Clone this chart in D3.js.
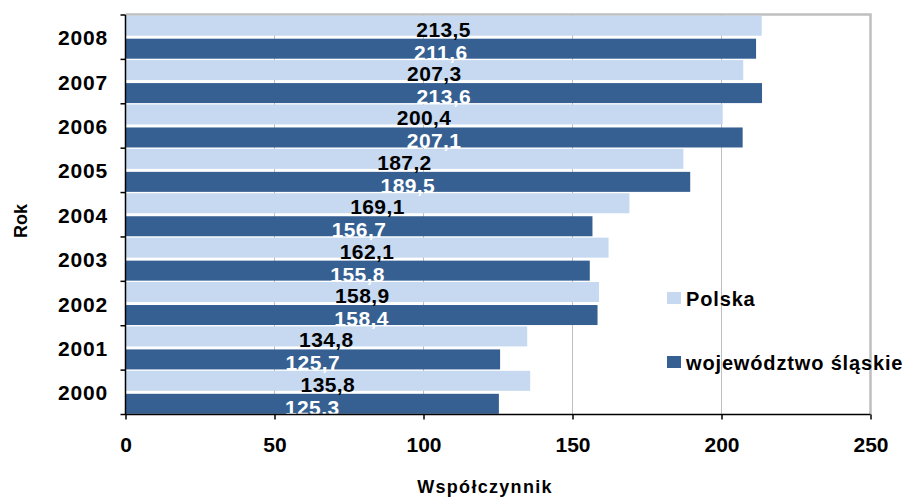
<!DOCTYPE html>
<html>
<head>
<meta charset="utf-8">
<script src="https://cdn.jsdelivr.net/npm/d3@7"></script>
<style>
  html, body { margin: 0; padding: 0; background: #fff; }
  svg { display: block; font-family: "Liberation Sans", Arial, sans-serif; font-weight: bold; }
</style>
</head>
<body>
<svg id="chart" width="903" height="498"></svg>
<script>
// Wskaźnik (współczynnik) dla Polski i województwa śląskiego, lata 2000–2008
const years = ["2000", "2001", "2002", "2003", "2004", "2005", "2006", "2007", "2008"];
const polska = [135.8, 134.8, 158.9, 162.1, 169.1, 187.2, 200.4, 207.3, 213.5];
const slaskie = [125.3, 125.7, 158.4, 155.8, 156.7, 189.5, 207.1, 213.6, 211.6];
const seriesNames = ["Polska", "województwo śląskie"];
const xTicks = [0, 50, 100, 150, 200, 250];

const colors = ["#c6d9f1", "#366092"];
const labelColors = ["#000", "#fff"];

const svg = d3.select("#chart");
const plot = { left: 125.5, right: 870.5, top: 15, bottom: 414.5 };

const x = d3.scaleLinear().domain([0, 250]).range([plot.left, plot.right]);
// 2008 at the top, 2000 at the bottom
const y = d3.scaleBand().domain(years.slice().reverse()).range([plot.top, plot.bottom]).padding(0);
const bw = y.bandwidth();
const sub = d3.scaleBand().domain([0, 1]).range([0, bw]).paddingInner(0.13).paddingOuter(0.03);

const fmt = v => d3.format(".1f")(v).replace(".", ",");

// gridlines
svg.append("g").selectAll("line")
  .data(xTicks.filter(t => t > 0 && t < 250))
  .join("line")
  .attr("x1", d => x(d)).attr("x2", d => x(d))
  .attr("y1", plot.top).attr("y2", plot.bottom)
  .attr("stroke", "#bfbfbf").attr("stroke-width", 1);

// top and right frame
svg.append("path")
  .attr("d", `M${plot.left},${plot.top - 0.5} H${plot.right} V${plot.bottom}`)
  .attr("fill", "none").attr("stroke", "#bfbfbf").attr("stroke-width", 2.5);

const data = years.map((yr, i) => ({ year: yr, vals: [polska[i], slaskie[i]] }));

const groups = svg.append("g").selectAll("g")
  .data(data).join("g")
  .attr("transform", d => `translate(0,${y(d.year)})`);

groups.selectAll("rect")
  .data(d => d.vals.map((v, k) => ({ v, k })))
  .join("rect")
  .attr("x", x(0))
  .attr("y", d => sub(d.k))
  .attr("width", d => x(d.v) - x(0))
  .attr("height", sub.bandwidth())
  .attr("fill", d => colors[d.k]);

groups.selectAll("text")
  .data(d => d.vals.map((v, k) => ({ v, k })))
  .join("text")
  .attr("x", d => x(d.v / 2))
  .attr("y", d => sub(d.k) + sub.bandwidth() + 1)
  .attr("text-anchor", "middle")
  .attr("font-size", 21)
  .attr("letter-spacing", 0.4)
  .attr("fill", d => labelColors[d.k])
  .text(d => fmt(d.v));

// left axis with ticks at category boundaries
const yAxisG = svg.append("g");
yAxisG.append("line")
  .attr("x1", plot.left).attr("x2", plot.left)
  .attr("y1", plot.top).attr("y2", plot.bottom)
  .attr("stroke", "#000").attr("stroke-width", 1.5);
yAxisG.selectAll("line.tick")
  .data(d3.range(years.length + 1))
  .join("line").attr("class", "tick")
  .attr("x1", plot.left - 5).attr("x2", plot.left)
  .attr("y1", i => plot.top + i * bw).attr("y2", i => plot.top + i * bw)
  .attr("stroke", "#000").attr("stroke-width", 1.5);
yAxisG.selectAll("text")
  .data(years)
  .join("text")
  .attr("x", 108)
  .attr("y", d => y(d) + bw / 2 + 8)
  .attr("text-anchor", "end")
  .attr("font-size", 21)
  .attr("letter-spacing", 0.8)
  .attr("fill", "#000")
  .text(d => d);

// bottom axis
const xAxis = d3.axisBottom(x).tickValues(xTicks).tickSize(5).tickFormat(d3.format("d"));
const xAxisG = svg.append("g")
  .attr("transform", `translate(0,${plot.bottom})`)
  .call(xAxis);
xAxisG.select(".domain").attr("stroke", "#000").attr("stroke-width", 1.5)
  .attr("d", `M${plot.left},0H${plot.right}`);
xAxisG.selectAll(".tick line").attr("stroke", "#000").attr("stroke-width", 1.5);
xAxisG.selectAll(".tick text")
  .attr("y", 23).attr("dy", "0.71em")
  .attr("font-size", 21).attr("font-family", "Liberation Sans, Arial, sans-serif")
  .attr("font-weight", "bold").attr("fill", "#000");

// axis titles
svg.append("text")
  .attr("x", 485).attr("y", 493)
  .attr("text-anchor", "middle")
  .attr("font-size", 18)
  .attr("letter-spacing", 1.3)
  .attr("fill", "#000")
  .text("Współczynnik");

svg.append("text")
  .attr("transform", "translate(27,221) rotate(-90)")
  .attr("text-anchor", "middle")
  .attr("font-size", 18)
  .attr("fill", "#000")
  .text("Rok");

// legend
const legend = svg.append("g");
const legendY = [298, 362];
seriesNames.forEach((name, k) => {
  legend.append("rect")
    .attr("x", 667).attr("y", legendY[k] - 6)
    .attr("width", 14).attr("height", 12)
    .attr("fill", colors[k]);
  legend.append("text")
    .attr("x", 686).attr("y", legendY[k] + 7.5)
    .attr("font-size", 20)
    .attr("letter-spacing", 0.85)
    .attr("fill", "#000")
    .text(name);
});
</script>
</body>
</html>
